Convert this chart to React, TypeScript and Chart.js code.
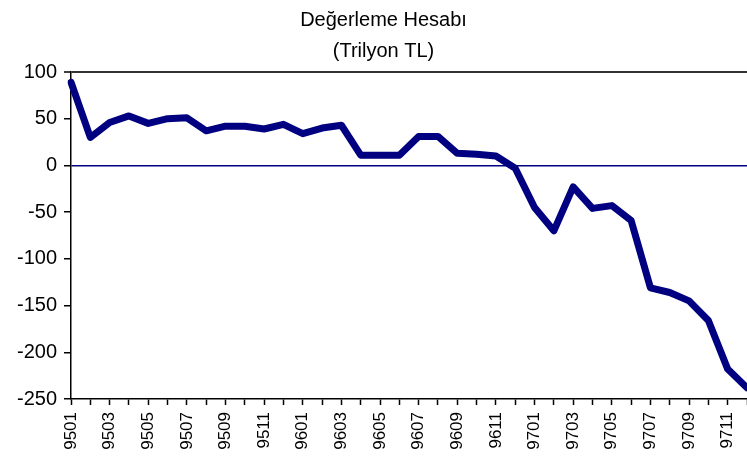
import React, { useEffect, useRef } from "react";
import { Chart, registerables } from "chart.js";

Chart.register(...registerables);

const titleLines = ["Değerleme Hesabı", "(Trilyon TL)"];

const categories = [
  "9501", "9502", "9503", "9504", "9505", "9506", "9507", "9508", "9509", "9510", "9511", "9512",
  "9601", "9602", "9603", "9604", "9605", "9606", "9607", "9608", "9609", "9610", "9611", "9612",
  "9701", "9702", "9703", "9704", "9705", "9706", "9707", "9708", "9709", "9710", "9711", "9712",
];

const degerleme = [
  89, 30, 46, 53, 45, 50, 51, 37, 42, 42, 39, 44,
  34, 40, 43, 11, 11, 11, 31, 31, 13, 12, 10, -3,
  -45, -70, -23, -46, -43, -59, -131, -136, -145, -166, -218, -238,
];

const yMin = -250;
const yMax = 100;
const yStep = 50;

const FONT = "'Liberation Sans', Arial, sans-serif";

const shiftTitle = {
  id: "shiftTitle",
  afterLayout(chart: any) {
    const t = chart.titleBlock;
    if (t) t.left = t.left + 20;
  },
};

export default function App() {
  const ref = useRef<HTMLCanvasElement | null>(null);

  useEffect(() => {
    document.body.style.margin = "0";
    const canvas = ref.current;
    if (!canvas) return;
    const chart = new Chart(canvas, {
      type: "line",
      data: {
        labels: categories,
        datasets: [
          {
            data: degerleme,
            borderColor: "#000080",
            backgroundColor: "#000080",
            borderWidth: 7,
            pointRadius: 0,
            tension: 0,
            borderJoinStyle: "round",
            borderCapStyle: "round",
          },
        ],
      },
      plugins: [shiftTitle],
      options: {
        responsive: false,
        animation: false,
        layout: { padding: { left: 0, right: 0, top: 0, bottom: 0 } },
        plugins: {
          legend: { display: false },
          tooltip: { enabled: false },
          title: {
            display: true,
            text: titleLines,
            color: "#000",
            font: { family: FONT, size: 20, weight: "normal", lineHeight: 1.55 },
            padding: { top: 5, bottom: 5 },
          },
        },
        scales: {
          x: {
            type: "category",
            offset: false,
            afterFit: (s: any) => {
              s.height = 60;
              s.paddingLeft = 0;
              s.paddingRight = 0;
            },
            border: { display: true, color: "#000", width: 1.5 },
            grid: {
              drawOnChartArea: false,
              drawTicks: true,
              tickLength: 6,
              tickColor: "#000",
              tickWidth: 1.5,
            },
            ticks: {
              autoSkip: false,
              minRotation: 90,
              maxRotation: 90,
              padding: 7,
              color: "#000",
              font: { family: FONT, size: 17 },
              callback: (_v: any, i: number) => (i % 2 === 0 ? categories[i] : ""),
            },
          },
          y: {
            min: yMin,
            max: yMax,
            afterFit: (s: any) => {
              s.width = 71;
            },
            border: { display: true, color: "#000", width: 1.5 },
            grid: {
              drawOnChartArea: true,
              drawTicks: true,
              tickLength: 7,
              tickColor: "#000",
              tickWidth: 1.5,
              color: (ctx: any) =>
                ctx.tick && ctx.tick.value === yMax
                  ? "#333"
                  : ctx.tick && ctx.tick.value === 0
                  ? "#000080"
                  : "rgba(0,0,0,0)",
              lineWidth: (ctx: any) => (ctx.tick && ctx.tick.value === yMax ? 2 : 1.5),
            },
            ticks: {
              stepSize: yStep,
              padding: 7,
              color: "#000",
              font: { family: FONT, size: 20 },
            },
          },
        },
      },
    });
    return () => chart.destroy();
  }, []);

  return (
    <div style={{ width: 747, height: 459, background: "#fff" }}>
      <canvas ref={ref} width={747} height={459} />
    </div>
  );
}
